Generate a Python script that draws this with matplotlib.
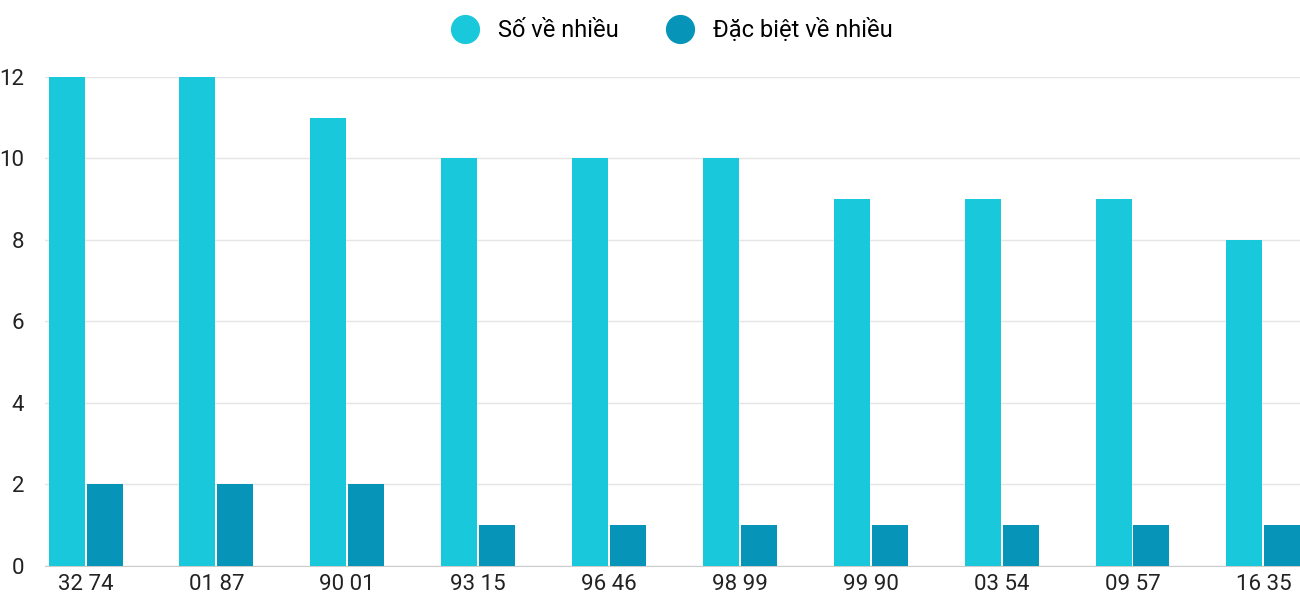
import matplotlib
matplotlib.use("Agg")
import matplotlib.pyplot as plt
from matplotlib.lines import Line2D
import numpy as np

categories = ["32 74", "01 87", "90 01", "93 15", "96 46", "98 99", "99 90", "03 54", "09 57", "16 35"]
so_ve_nhieu = [12, 12, 11, 10, 10, 10, 9, 9, 9, 8]
dac_biet = [2, 2, 2, 1, 1, 1, 1, 1, 1, 1]

plt.rcParams['font.family'] = ['Roboto', 'DejaVu Sans']
c1, c2 = "#1ac8db", "#0695b8"

fig = plt.figure(figsize=(13, 6), dpi=100)
ax = fig.add_axes([0.0346, 0.0567, 0.9654, 0.815])
x = np.arange(len(categories))
w = 0.275
ax.bar(x - 0.145, so_ve_nhieu, w, color=c1, zorder=3)
ax.bar(x + 0.145, dac_biet, w, color=c2, zorder=3)
ax.set_xlim(-0.31, 9.28)
ax.set_ylim(0, 12)
ax.set_yticks(range(0, 13, 2))
ax.set_xticks(x)
ax.set_xticklabels(categories)
ax.tick_params(axis='both', length=0, labelsize=16, colors="#222222")
ax.tick_params(axis='y', pad=15)
ax.tick_params(axis='x', pad=6)
ax.grid(axis='y', color="#e5e5e5", linewidth=1, zorder=0)
for s in ["top", "right", "left"]:
    ax.spines[s].set_visible(False)
ax.spines["bottom"].set_color("#cccccc")
handles = [Line2D([], [], marker='o', linestyle='', markersize=20, color=c1),
           Line2D([], [], marker='o', linestyle='', markersize=20, color=c2)]
fig.legend(handles, ["Số về nhiều", "Đặc biệt về nhiều"], loc='upper center',
           bbox_to_anchor=(0.513, 1.005), ncol=2, frameon=False, fontsize=17,
           handletextpad=0.4, columnspacing=1.6)
fig.savefig("out.png", dpi=100)
